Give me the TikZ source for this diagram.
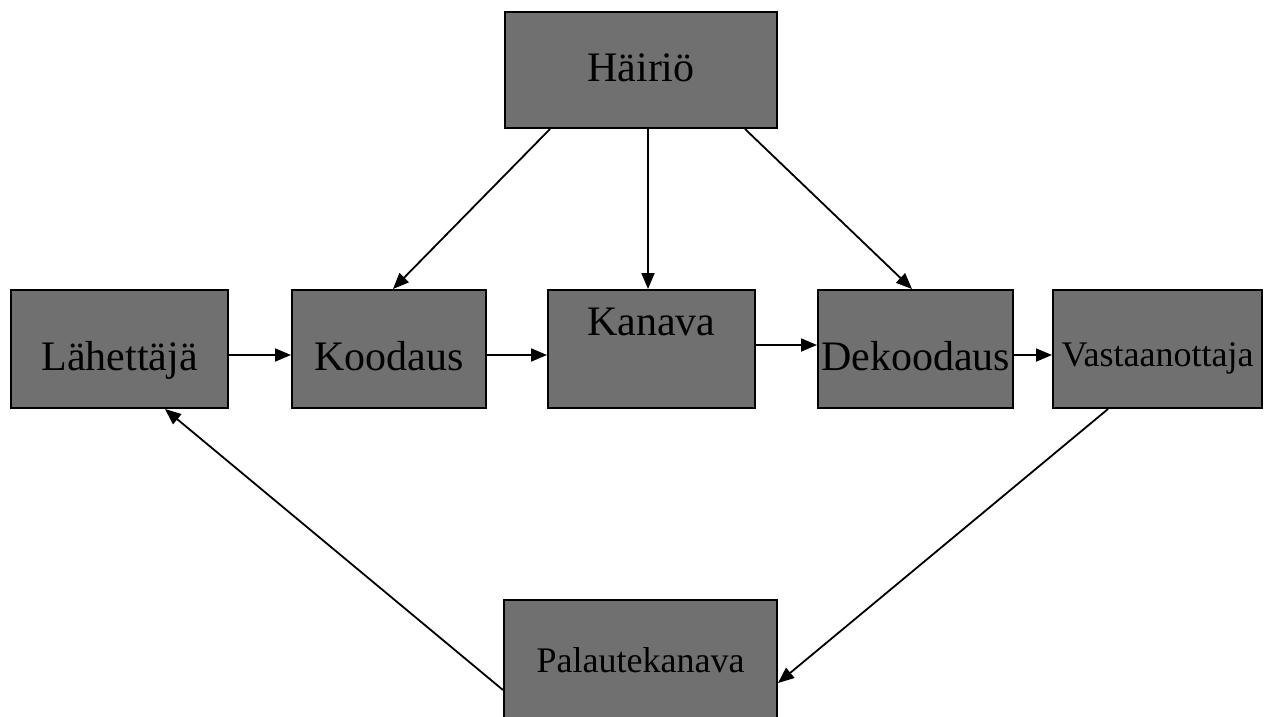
\documentclass[tikz,border=0pt]{standalone}
\usepackage{fontspec}
\setmainfont{Liberation Serif}
\usetikzlibrary{arrows.meta}
\definecolor{boxgray}{rgb}{0.44,0.44,0.44}
\tikzset{
  block/.style={draw=black, line width=2pt, fill=boxgray, inner sep=0pt,
    text height=42pt, text depth=0pt,
    font=\fontsize{42}{42}\selectfont, text=black},
  smalltext/.style={font=\fontsize{36}{36}\selectfont},
  link/.style={line width=1.8pt, -{Triangle[length=16pt,width=13pt]}}
}
\begin{document}
\begin{tikzpicture}[x=1pt,y=-1pt]
\useasboundingbox (0,0) rectangle (1266,716);
\fill[white] (0,0) rectangle (1266,716);

% communication blocks
\node[block, minimum width=272, minimum height=116] (hai) at (641,70) {\raisebox{10pt}{Häiriö}};
\node[block, minimum width=217, minimum height=118] (lah) at (119.5,349) {Lähettäjä};
\node[block, minimum width=194, minimum height=118] (koo) at (389,349) {Koodaus};
\node[block, minimum width=207, minimum height=118] (kan) at (651.5,349) {\raisebox{35pt}{Kanava}};
\node[block, minimum width=195, minimum height=118] (dek) at (915.5,349) {Dekoodaus};
\node[block, smalltext, minimum width=209, minimum height=118] (vas) at (1157.5,349) {\raisebox{4pt}{Vastaanottaja}};
\node[block, smalltext, minimum width=273, minimum height=120] (pal) at (640.5,660) {\raisebox{9pt}{Palautekanava}};

% main chain
\draw[link] ([yshift=-6]lah.east) -- ([yshift=-6]koo.west);
\draw[link] ([yshift=-6]koo.east) -- ([yshift=-6]kan.west);
\draw[link] ([yshift=4]kan.east) -- ([yshift=4]dek.west);
\draw[link] ([yshift=-6]dek.east) -- ([yshift=-6]vas.west);

% noise
\draw[link] ([xshift=-91]hai.south) -- ([xshift=4]koo.north);
\draw[link] ([xshift=7]hai.south) -- ([xshift=-3.5]kan.north);
\draw[link] ([xshift=104]hai.south) -- ([xshift=-3.5]dek.north);

% feedback
\draw[link] ([xshift=-49.5]vas.south) -- ([yshift=-23]pal.east);
\draw[link] ([yshift=-30]pal.west) -- ([xshift=45.5]lah.south);
\end{tikzpicture}
\end{document}
